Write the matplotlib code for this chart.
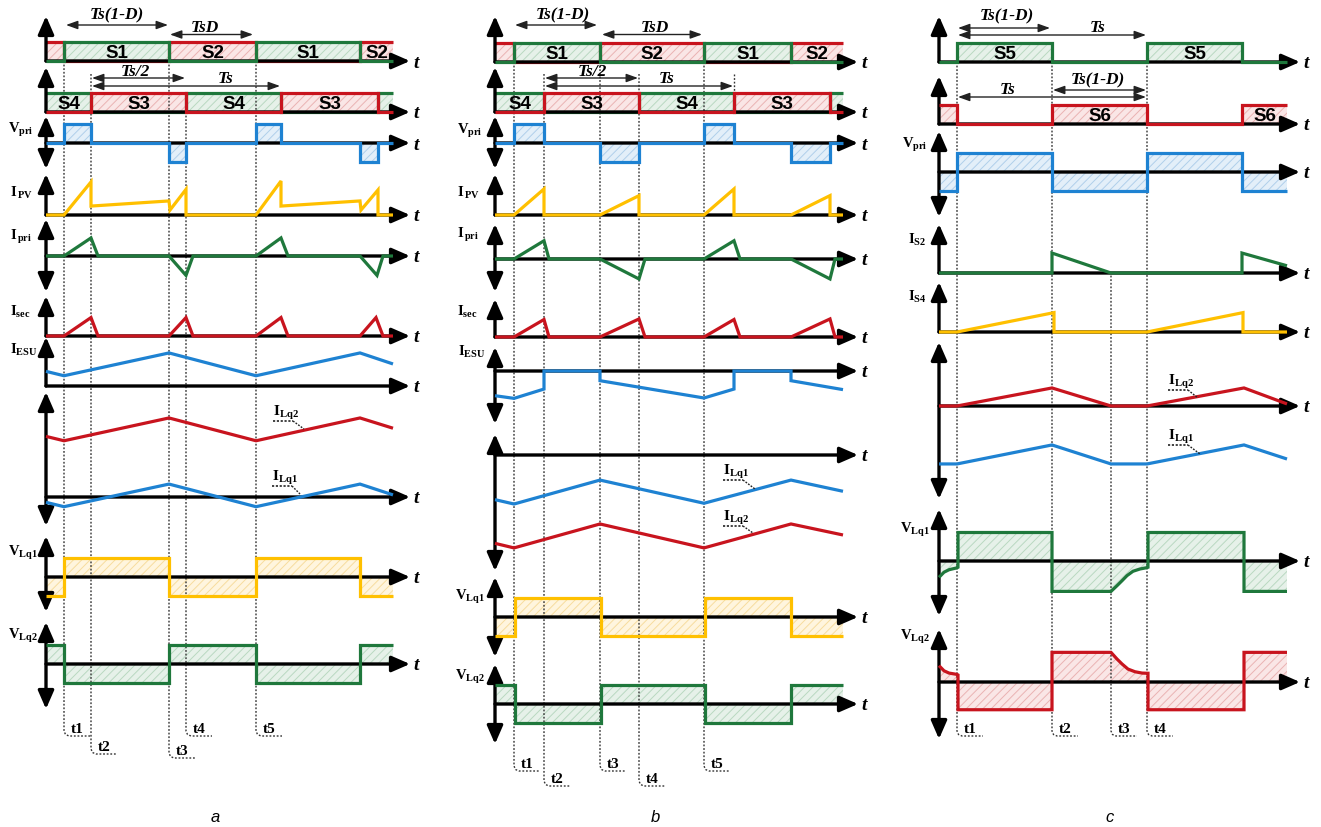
import numpy as np
import matplotlib
matplotlib.use("Agg")
import matplotlib.pyplot as plt
import matplotlib.transforms as mtransforms

W, H = 1321, 828
U = 19.0  # pixels per amplitude unit

plt.rcParams.update({
    'mathtext.fontset': 'custom',
    'mathtext.rm': 'Liberation Serif:bold',
    'mathtext.it': 'Liberation Serif:italic:bold',
    'mathtext.bf': 'Liberation Serif:bold',
    'hatch.linewidth': 0.7,
})

GREEN, RED, BLUE, YELLOW = '#1f783c', '#c8141e', '#1e82d2', '#ffc000'
FILLS = {GREEN: ('#e6f1e9', '#b9d8c1'), RED: ('#fae6e6', '#eab3b3'),
         BLUE: ('#e3eff9', '#b0cfea'), YELLOW: ('#fff5de', '#f7dc9e')}

# ======================= DATA (time in arbitrary units) =======================
# ---- panel a ----
a_s1_edges = [0, 18, 123, 210, 314, 347]
a_s1_state = [0, 1, 0, 1, 0]            # S1 on = 1 ; S2 = complement
a_s3_edges = [0, 45, 140, 235, 332, 347]
a_s3_state = [0, 1, 0, 1, 0]            # S3 on = 1 ; S4 = complement
a_vpri_edges = [0, 18, 45, 123, 140, 210, 235, 314, 332, 347]
a_vpri_level = [0, 1, 0, -1, 0, 1, 0, -1, 0]
a_ipv_t = [0, 18, 45, 45, 123, 124, 140, 140, 210, 235, 235, 314, 315, 332, 332, 347]
a_ipv_v = [0, 0, 1.74, 0.47, 0.74, 0.26, 1.35, 0, 0, 1.79, 0.47, 0.74, 0.26, 1.32, 0, 0]
a_ipri_t = [0, 18, 45, 52, 123, 140, 147, 210, 235, 242, 314, 331, 337, 347]
a_ipri_v = [0, 0, 0.95, 0, 0, -1.02, 0, 0, 0.95, 0, 0, -1.02, 0, 0]
a_isec_t = [0, 18, 45, 52, 123, 140, 147, 210, 235, 242, 314, 330, 337, 347]
a_isec_v = [0, 0, 0.97, 0, 0, 0.97, 0, 0, 0.97, 0, 0, 0.97, 0, 0]
a_ilq_t = [0, 18, 123, 210, 314, 347]
a_iesu_v = [0.77, 0.54, 1.74, 0.54, 1.74, 1.16]
a_ilq2_v = [3.19, 2.96, 4.16, 2.96, 4.16, 3.62]
a_ilq1_v = [-0.28, -0.51, 0.68, -0.51, 0.68, 0.11]
a_vlq_edges = [0, 18, 123, 210, 314, 347]
a_vlq1_level = [-1, 1, -1, 1, -1]
a_vlq2_level = [1, -1, 1, -1, 1]
a_marks = ['t1', 't2', 't3', 't4', 't5']
a_mark_t = [18, 45, 123, 140, 210]

# ---- panel b ----
b_s1_edges = [0, 19, 105, 209, 296, 348]
b_s1_state = [0, 1, 0, 1, 0]
b_s3_edges = [0, 49, 144, 239, 335, 348]
b_s3_state = [0, 1, 0, 1, 0]
b_vpri_edges = [0, 19, 49, 105, 144, 209, 239, 296, 335, 348]
b_vpri_level = [0, 1, 0, -1, 0, 1, 0, -1, 0]
b_ipv_t = [0, 19, 49, 49, 105, 144, 144, 209, 239, 239, 296, 335, 335, 348]
b_ipv_v = [0, 0, 1.37, 0, 0, 1.02, 0, 0, 1.37, 0, 0, 1.02, 0, 0]
b_ipri_t = [0, 19, 49, 54, 105, 144, 150, 209, 239, 245, 296, 335, 340, 348]
b_ipri_v = [0, 0, 0.96, 0, 0, -1.05, 0, 0, 0.96, 0, 0, -1.05, 0, 0]
b_isec_v = [0, 0, 0.92, 0, 0, 0.95, 0, 0, 0.92, 0, 0, 0.95, 0, 0]
b_iesu_t = [0, 19, 49, 49, 105, 105, 209, 239, 239, 296, 296, 348]
b_iesu_v = [-1.30, -1.44, -0.95, 0, 0, -0.51, -1.42, -0.95, 0, 0, -0.51, -0.98]
b_ilq_t = [0, 19, 105, 209, 296, 348]
b_ilq1_v = [-2.35, -2.58, -1.32, -2.54, -1.32, -1.91]
b_ilq2_v = [-4.65, -4.89, -3.63, -4.89, -3.63, -4.21]
b_vlq_edges = [0, 20, 106, 210, 296, 348]
b_vlq1_level = [-1, 1, -1, 1, -1]
b_vlq2_level = [1, -1, 1, -1, 1]
b_marks = ['t1', 't2', 't3', 't4', 't5']
b_mark_t = [19, 49, 105, 144, 209]

# ---- panel c ----
c_s5_edges = [0, 18, 113, 208, 303, 348]
c_s5_state = [0, 1, 0, 1, 0]            # S6 = complement
c_vpri_level = [-1, 1, -1, 1, -1]
c_is2_t = [0, 113, 113, 172, 303, 303, 348]
c_is2_v = [0, 0, 1.05, 0, 0, 1.05, 0.38]
c_is4_t = [0, 18, 115, 115, 208, 304, 304, 348]
c_is4_v = [0, 0, 1.02, 0, 0, 1.02, 0, 0]
c_ilq_t = [0, 18, 113, 172, 208, 305, 348]
c_ilq2_v = [0, 0, 0.95, 0, 0, 0.95, 0.11]
c_ilq1_v = [-3.05, -3.05, -2.05, -3.05, -3.05, -2.05, -2.79]
c_vlq1_t = [0, 5, 10, 18, 19, 19, 113, 113, 172, 178, 183, 188, 194, 201, 208, 209, 209, 305, 305, 348]
c_vlq1_v = [-0.86, -0.59, -0.46, -0.36, -0.33, 1.5, 1.5, -1.6, -1.6, -1.3, -1.04, -0.77, -0.54, -0.42,
            -0.35, -0.33, 1.5, 1.5, -1.6, -1.6]
c_vlq2_t = [0, 5, 10, 18, 19, 19, 113, 113, 172, 178, 183, 189, 196, 203, 208, 209, 209, 305, 305, 348]
c_vlq2_v = [0.86, 0.59, 0.47, 0.40, 0.37, -1.46, -1.46, 1.56, 1.56, 1.21, 0.95, 0.68, 0.54, 0.47,
            0.46, 0.46, -1.46, -1.46, 1.56, 1.56]
c_marks = ['t1', 't2', 't3', 't4']
c_mark_t = [18, 113, 172, 208]

# ======================= DRAWING =======================
fig = plt.figure(figsize=(W / 100, H / 100), dpi=100)
SERIF = 'Liberation Serif'
SANS = 'Liberation Sans'


def panel_axes(x0):
    ax = fig.add_axes([0, 0, 1, 1])
    ax.set_xlim(-x0, W - x0)
    ax.set_ylim(H, 0)
    ax.axis('off')
    return ax


def steps(edges, states):
    t, v = [], []
    for i, s in enumerate(states):
        t += [edges[i], edges[i + 1]]
        v += [s, s]
    return np.array(t, float), np.array(v, float)


def row_tr(ax, base):
    return mtransforms.Affine2D().scale(1, -U).translate(0, base) + ax.transData


def wave(ax, base, t, v, color, z=5, fill=False, fillcolor=None):
    tr = row_tr(ax, base)
    t = np.asarray(t, float)
    v = np.asarray(v, float)
    if fill:
        fc, hc = FILLS[fillcolor or color]
        ax.fill_between(t, 0, v, facecolor=fc, edgecolor=hc, hatch='////', lw=0,
                        transform=tr, zorder=1)
    if color is not None:
        ax.plot(t, v, color=color, lw=2.3, transform=tr, zorder=z,
                solid_joinstyle='miter', solid_capstyle='butt')


def fillonly(ax, base, t, v, color):
    fc, hc = FILLS[color]
    ax.fill_between(t, 0, v, facecolor=fc, edgecolor=hc, hatch='////', lw=0,
                    transform=row_tr(ax, base), zorder=1)


HEAD = 'head_length=0.55,head_width=0.24'


def axis(ax, base, up, down, tip):
    ax.annotate('', xy=(tip, base), xytext=(0, base),
                arrowprops=dict(arrowstyle='-|>,' + HEAD, mutation_scale=20, lw=2.4,
                                color='k', shrinkA=0, shrinkB=0), zorder=4)
    ax.text(tip + 3, base + 1, 't', fontfamily=SERIF, fontstyle='italic', fontweight='bold',
            fontsize=14, ha='left', va='center')
    if down is None:
        ax.annotate('', xy=(0, up), xytext=(0, base),
                    arrowprops=dict(arrowstyle='-|>,' + HEAD, mutation_scale=20, lw=2.4,
                                    color='k', shrinkA=0, shrinkB=0), zorder=4)
    else:
        ax.annotate('', xy=(0, up), xytext=(0, down),
                    arrowprops=dict(arrowstyle='<|-|>,' + HEAD, mutation_scale=20, lw=2.4,
                                    color='k', shrinkA=0, shrinkB=0), zorder=4)


def span(ax, t0, t1, y, label, tx, ty):
    ax.annotate('', xy=(t1, y), xytext=(t0, y),
                arrowprops=dict(arrowstyle='<|-|>,head_length=0.5,head_width=0.18',
                                mutation_scale=14, lw=1.0, color='#222', shrinkA=0, shrinkB=0),
                zorder=6)
    ax.text(tx, ty, label, fontfamily=SERIF, fontstyle='italic', fontweight='bold',
            fontsize=12.5, ha='center', va='center', zorder=6)


def slabel(ax, base, t0, t1, txt):
    ax.text((t0 + t1) / 2, base - 0.5 * U + 1, txt, fontfamily=SANS, fontweight='bold',
            fontsize=13.5, ha='center', va='center', zorder=6)


def ylabel(ax, x, y, txt):
    ax.text(x, y, txt, fontsize=10.5, ha='left', va='center', zorder=6)


def marker(ax, x, ytop, ybot, txt):
    ax.plot([x, x, x + 1.5, x + 5, x + 26], [ytop, ybot - 5, ybot - 1.5, ybot, ybot],
            ls=(0, (1.3, 1.3)), lw=1.0, color='#333', zorder=2)
    ax.text(x + 7, ybot - 0.5, txt, fontfamily=SERIF, fontweight='bold', fontsize=11,
            ha='left', va='bottom', zorder=6)


def leader(ax, x, y, txt, x2, y2):
    ax.text(x, y, txt, fontsize=11, ha='left', va='center', zorder=6)
    ax.plot([x, x + 20], [y + 9, y + 9], ls=(0, (1.3, 1.0)), lw=1.2, color='#222', zorder=6)
    ax.plot([x + 20, x2], [y + 9, y2], ls=(0, (1.3, 1.0)), lw=1.0, color='#222', zorder=6)


def switch_row(ax, base, edges, state, c_on, c_off, lab_on, lab_off, on_top, labels_off_idx,
               labels_on_idx, tip, up, fill_off=True):
    t, v1 = steps(edges, state)
    v0 = 1 - v1
    fillonly(ax, base, t, v1, c_on)
    if fill_off:
        fillonly(ax, base, t, v0, c_off)
    if on_top:
        wave(ax, base, t, v0, c_off, z=3)
        wave(ax, base, t, v1, c_on, z=5)
    else:
        wave(ax, base, t, v1, c_on, z=3)
        wave(ax, base, t, v0, c_off, z=5)
    for i in labels_on_idx:
        slabel(ax, base, edges[i], edges[i + 1], lab_on)
    for i in labels_off_idx:
        slabel(ax, base, edges[i], edges[i + 1], lab_off)
    axis(ax, base, up, None, tip)


# ------------------------------ panel a ------------------------------
ax = panel_axes(46)
tip = 364
for m, tm, top, bot in zip(a_marks, a_mark_t, [62, 75, 62, 113, 62], [737, 755, 759, 737, 737]):
    marker(ax, tm, top, bot, m)
switch_row(ax, 62, a_s1_edges, a_s1_state, GREEN, RED, 'S1', 'S2', True, [2, 4], [1, 3], tip, 17)
# row 2: S3 red on top, S4 green below
t, v3 = steps(a_s3_edges, a_s3_state)
fillonly(ax, 113, t, v3, RED); fillonly(ax, 113, t, 1 - v3, GREEN)
wave(ax, 113, t, 1 - v3, GREEN, z=3); wave(ax, 113, t, v3, RED, z=5)
for i in [1, 3]:
    slabel(ax, 113, a_s3_edges[i], a_s3_edges[i + 1], 'S3')
for i in [0, 2]:
    slabel(ax, 113, a_s3_edges[i], a_s3_edges[i + 1], 'S4')
axis(ax, 113, 68, None, tip)
t, v = steps(a_vpri_edges, a_vpri_level)
wave(ax, 144, t, v, BLUE, fill=True); axis(ax, 144, 117, 170, tip)
wave(ax, 216, a_ipv_t, a_ipv_v, YELLOW); axis(ax, 216, 175, None, tip)
wave(ax, 257, a_ipri_t, a_ipri_v, GREEN); axis(ax, 257, 220, 293, tip)
wave(ax, 337, a_isec_t, a_isec_v, RED); axis(ax, 337, 297, None, tip)
wave(ax, 387, a_ilq_t, a_iesu_v, BLUE); axis(ax, 387, 338, None, tip)
wave(ax, 498, a_ilq_t, a_ilq2_v, RED); wave(ax, 498, a_ilq_t, a_ilq1_v, BLUE)
axis(ax, 498, 393, 527, tip)
t, v = steps(a_vlq_edges, a_vlq1_level)
wave(ax, 578, t, v, YELLOW, fill=True); axis(ax, 578, 537, 613, tip)
t, v = steps(a_vlq_edges, a_vlq2_level)
wave(ax, 665, t, v, GREEN, fill=True); axis(ax, 665, 623, 710, tip)
span(ax, 20, 122, 26, 'Ts(1-D)', 71, 15)
span(ax, 124, 207, 35.5, 'TsD', 159, 28)
span(ax, 46, 139, 79, 'Ts/2', 89, 72)
span(ax, 46, 234, 87, 'Ts', 180, 79)
ylabel(ax, -38, 130, r'$\mathrm{V_{pri}}$')
ylabel(ax, -36, 193, r'$\mathrm{I_{\,PV}}$')
ylabel(ax, -36, 237, r'$\mathrm{I_{\,pri}}$')
ylabel(ax, -36, 312, r'$\mathrm{I_{sec}}$')
ylabel(ax, -36, 350, r'$\mathrm{I_{ESU}}$')
ylabel(ax, -38, 553, r'$\mathrm{V_{Lq1}}$')
ylabel(ax, -38, 636, r'$\mathrm{V_{Lq2}}$')
leader(ax, 227, 413, r'$\mathrm{I_{Lq2}}$', 258, 430)
leader(ax, 226, 478, r'$\mathrm{I_{Lq1}}$', 254, 495)
ax.text(215 - 46, 818, 'a', fontfamily=SANS, fontstyle='italic', fontsize=12, ha='center', va='center')

# ------------------------------ panel b ------------------------------
ax = panel_axes(495)
tip = 363
for m, tm, top, bot in zip(b_marks, b_mark_t, [63, 75, 63, 75, 63], [772, 787, 772, 787, 772]):
    marker(ax, tm, top, bot, m)
ax.plot([239, 239], [75, 93], ls=(0, (1.3, 1.3)), lw=1.0, color='#333', zorder=2)
switch_row(ax, 63, b_s1_edges, b_s1_state, GREEN, RED, 'S1', 'S2', True, [2, 4], [1, 3], tip, 17)
t, v3 = steps(b_s3_edges, b_s3_state)
fillonly(ax, 113, t, v3, RED); fillonly(ax, 113, t, 1 - v3, GREEN)
wave(ax, 113, t, 1 - v3, GREEN, z=3); wave(ax, 113, t, v3, RED, z=5)
for i in [1, 3]:
    slabel(ax, 113, b_s3_edges[i], b_s3_edges[i + 1], 'S3')
for i in [0, 2]:
    slabel(ax, 113, b_s3_edges[i], b_s3_edges[i + 1], 'S4')
axis(ax, 113, 68, None, tip)
t, v = steps(b_vpri_edges, b_vpri_level)
wave(ax, 144, t, v, BLUE, fill=True); axis(ax, 144, 117, 170, tip)
wave(ax, 216, b_ipv_t, b_ipv_v, YELLOW); axis(ax, 216, 175, None, tip)
wave(ax, 260, b_ipri_t, b_ipri_v, GREEN); axis(ax, 260, 225, 293, tip)
wave(ax, 338, b_ipri_t, b_isec_v, RED); axis(ax, 338, 300, None, tip)
wave(ax, 372, b_iesu_t, b_iesu_v, BLUE); axis(ax, 372, 348, 425, tip)
wave(ax, 456, b_ilq_t, b_ilq1_v, BLUE); wave(ax, 456, b_ilq_t, b_ilq2_v, RED)
axis(ax, 456, 435, 572, tip)
t, v = steps(b_vlq_edges, b_vlq1_level)
wave(ax, 618, t, v, YELLOW, fill=True); axis(ax, 618, 578, 658, tip)
t, v = steps(b_vlq_edges, b_vlq2_level)
wave(ax, 705, t, v, GREEN, fill=True); axis(ax, 705, 665, 745, tip)
span(ax, 20, 102, 26, 'Ts(1-D)', 68, 15)
span(ax, 107, 207, 35.5, 'TsD', 160, 28)
span(ax, 50, 143, 79, 'Ts/2', 97, 72)
span(ax, 50, 238, 87, 'Ts', 172, 79)
ylabel(ax, -38, 131, r'$\mathrm{V_{pri}}$')
ylabel(ax, -38, 193, r'$\mathrm{I_{\,PV}}$')
ylabel(ax, -38, 235, r'$\mathrm{I_{\,pri}}$')
ylabel(ax, -38, 312, r'$\mathrm{I_{sec}}$')
ylabel(ax, -37, 352, r'$\mathrm{I_{ESU}}$')
ylabel(ax, -40, 597, r'$\mathrm{V_{Lq1}}$')
ylabel(ax, -40, 677, r'$\mathrm{V_{Lq2}}$')
leader(ax, 228, 472, r'$\mathrm{I_{Lq1}}$', 260, 490)
leader(ax, 228, 518, r'$\mathrm{I_{Lq2}}$', 258, 534)
ax.text(655 - 495, 818, 'b', fontfamily=SANS, fontstyle='italic', fontsize=12, ha='center', va='center')

# ------------------------------ panel c ------------------------------
ax = panel_axes(939)
tip = 361
for m, tm, top in zip(c_marks, c_mark_t, [63, 63, 273, 63]):
    marker(ax, tm, top, 737, m)
t, v5 = steps(c_s5_edges, c_s5_state)
fillonly(ax, 63, t, v5, GREEN)
wave(ax, 63, t, v5, GREEN, z=5)
for i in [1, 3]:
    slabel(ax, 63, c_s5_edges[i], c_s5_edges[i + 1], 'S5')
axis(ax, 63, 17, None, tip)
fillonly(ax, 125, t, 1 - v5, RED)
wave(ax, 125, t, 1 - v5, RED, z=5)
for i in [2, 4]:
    slabel(ax, 125, c_s5_edges[i], c_s5_edges[i + 1], 'S6')
axis(ax, 125, 77, None, tip)
t, v = steps(c_s5_edges, c_vpri_level)
wave(ax, 173, t, v, BLUE, fill=True); axis(ax, 173, 132, 218, tip)
wave(ax, 274, c_is2_t, c_is2_v, GREEN); axis(ax, 274, 225, None, tip)
wave(ax, 333, c_is4_t, c_is4_v, YELLOW); axis(ax, 333, 283, None, tip)
wave(ax, 407, c_ilq_t, c_ilq2_v, RED); wave(ax, 407, c_ilq_t, c_ilq1_v, BLUE)
axis(ax, 407, 343, 500, tip)
wave(ax, 562, c_vlq1_t, c_vlq1_v, GREEN, fill=True); axis(ax, 562, 510, 617, tip)
wave(ax, 683, c_vlq2_t, c_vlq2_v, RED, fill=True); axis(ax, 683, 630, 740, tip)
span(ax, 19, 111, 29, 'Ts(1-D)', 68, 16)
span(ax, 19, 207, 36, 'Ts', 159, 28)
span(ax, 114, 207, 91, 'Ts(1-D)', 159, 80)
span(ax, 19, 207, 98, 'Ts', 69, 90)
ylabel(ax, -37, 145, r'$\mathrm{V_{pri}}$')
ylabel(ax, -31, 240, r'$\mathrm{I_{S2}}$')
ylabel(ax, -31, 297, r'$\mathrm{I_{S4}}$')
ylabel(ax, -39, 530, r'$\mathrm{V_{Lq1}}$')
ylabel(ax, -39, 637, r'$\mathrm{V_{Lq2}}$')
leader(ax, 229, 382, r'$\mathrm{I_{Lq2}}$', 259, 399)
leader(ax, 229, 437, r'$\mathrm{I_{Lq1}}$', 261, 455)
ax.text(1110 - 939, 818, 'c', fontfamily=SANS, fontstyle='italic', fontsize=12, ha='center', va='center')

fig.savefig('out.png', dpi=100)
